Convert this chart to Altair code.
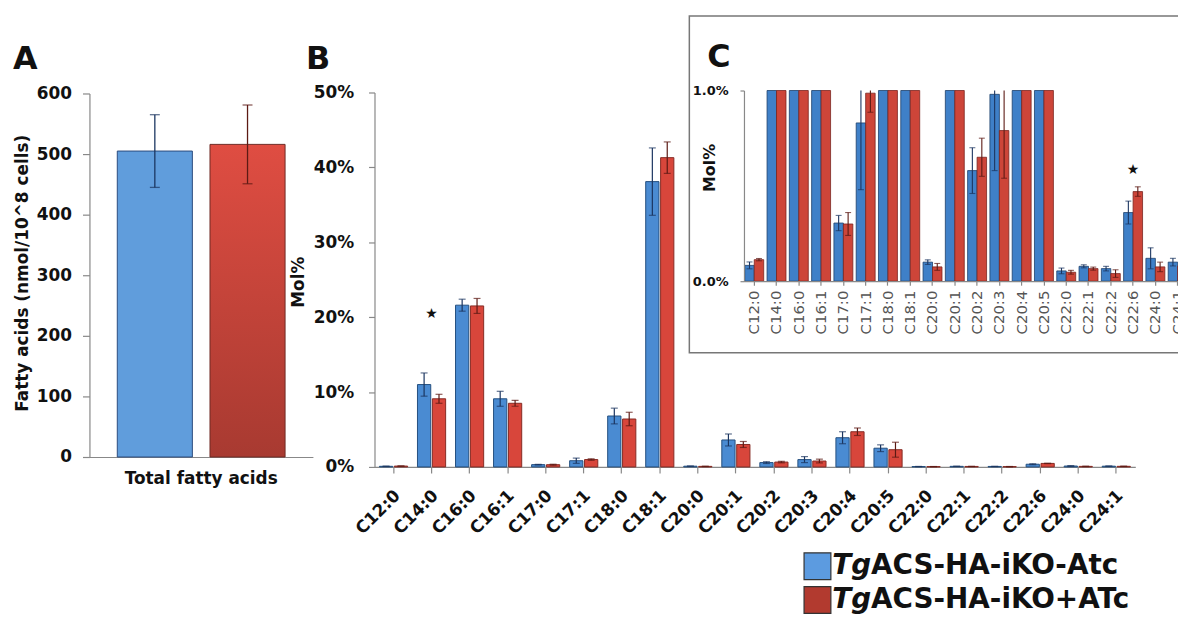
import altair as alt
import pandas as pd

FONT = "DejaVu Sans"
W, H = 1178, 607

# ---------------- data ----------------
groups = ["TgACS-HA-iKO-Atc", "TgACS-HA-iKO+ATc"]
legend_italic = ["Tg", "Tg"]
legend_rest = ["ACS-HA-iKO-Atc", "ACS-HA-iKO+ATc"]

# Panel A: total fatty acids (nmol / 10^8 cells)
total_label = ["Total fatty acids"]
total_mean = [505, 516]
total_sd = [60, 65]

# Panels B and C: Mol% per fatty acid
acids = ["C12:0", "C14:0", "C16:0", "C16:1", "C17:0", "C17:1", "C18:0", "C18:1",
         "C20:0", "C20:1", "C20:2", "C20:3", "C20:4", "C20:5",
         "C22:0", "C22:1", "C22:2", "C22:6", "C24:0", "C24:1"]
mol_minus = [0.083, 11.0, 21.6, 9.1, 0.305, 0.83, 6.8, 38.1, 0.10, 3.6,
             0.58, 0.98, 3.9, 2.5, 0.054, 0.078, 0.066, 0.36, 0.12, 0.10]
sd_minus = [0.018, 1.55, 0.8, 1.0, 0.04, 0.35, 1.05, 4.5, 0.012, 0.8,
            0.12, 0.40, 0.8, 0.45, 0.015, 0.008, 0.012, 0.06, 0.055, 0.02]
mol_plus = [0.113, 9.1, 21.5, 8.5, 0.30, 0.986, 6.4, 41.3, 0.075, 3.0,
            0.65, 0.79, 4.7, 2.3, 0.047, 0.066, 0.04, 0.47, 0.075, 0.08]
sd_plus = [0.006, 0.6, 1.0, 0.4, 0.06, 0.10, 0.9, 2.1, 0.018, 0.4,
           0.10, 0.25, 0.5, 1.0, 0.01, 0.008, 0.02, 0.025, 0.025, 0.015]

star_b_cat, star_b_y = ["C14:0"], [20.4]
star_c_cat, star_c_y = ["C22:6"], [0.583]

# ---------------- tables ----------------
dfA = pd.DataFrame({
    "cat": total_label * 2,
    "group": groups,
    "value": total_mean,
    "lo": [m - s for m, s in zip(total_mean, total_sd)],
    "hi": [m + s for m, s in zip(total_mean, total_sd)],
})

rows = []
for g, means, sds in [(groups[0], mol_minus, sd_minus), (groups[1], mol_plus, sd_plus)]:
    for c, m, s in zip(acids, means, sds):
        rows.append({"cat": c, "group": g, "value": m, "lo": m - s, "hi": m + s})
dfBC = pd.DataFrame(rows)
dfStarB = pd.DataFrame({"cat": star_b_cat, "value": star_b_y})
dfStarC = pd.DataFrame({"cat": star_c_cat, "value": star_c_y})
dfLeg = pd.DataFrame({"group": groups, "ital": legend_italic, "rest": legend_rest})
one = pd.DataFrame({"k": [0]})


def axis(**kw):
    base = dict(labelFont=FONT, labelFontWeight="bold", labelColor="#111",
                domainColor="#888", tickColor="#888", domainWidth=1.2, tickWidth=1.2,
                title=None, grid=False)
    base.update(kw)
    return alt.Axis(**base)


errcol_scale = alt.Scale(domain=groups, range=["#1b3560", "#5c1a14"])
errcol = alt.Color("group:N", scale=errcol_scale, legend=None)

# ---------------- Panel A ----------------
xA = alt.X("cat:N", scale=alt.Scale(domain=total_label, range=[82, 307], paddingInner=0, paddingOuter=0.166),
           axis=axis(orient="bottom", offset=-(H - 450), ticks=False, tickSize=0, labelAngle=0,
                     labelPadding=14, labelFontSize=17))
xoA = alt.XOffset("group:N", scale=alt.Scale(domain=groups, paddingInner=0.19, paddingOuter=0))
scYA = alt.Scale(domain=[0, 600], range=[450, 84], nice=False)
axYA = axis(orient="left", offset=-82, values=[0, 100, 200, 300, 400, 500, 600],
            tickSize=7, labelPadding=11, labelFontSize=17)

baseA = alt.Chart(dfA).encode(x=xA, xOffset=xoA)
barA_blue = baseA.transform_filter(alt.datum.group == groups[0]).mark_bar(
    fill="#609ddc", stroke="#2b4c7e", strokeWidth=1).encode(y=alt.Y("value:Q", scale=scYA, axis=axYA))
barA_red = baseA.transform_filter(alt.datum.group == groups[1]).mark_bar(
    fill=alt.LinearGradient(gradient="linear",
                            stops=[alt.GradientStop(color="#df4d42", offset=0),
                                   alt.GradientStop(color="#a83a31", offset=1)],
                            x1=0, x2=0, y1=0, y2=1),
    stroke="#6f2a24", strokeWidth=1).encode(y=alt.Y("value:Q", scale=scYA, axis=axYA))
ruleA = baseA.mark_rule(strokeWidth=1.3).encode(
    y=alt.Y("lo:Q", scale=scYA, axis=axYA), y2="hi:Q", color=errcol)
capA_hi = baseA.mark_tick(thickness=1.3, size=10).encode(y=alt.Y("hi:Q", scale=scYA, axis=axYA), color=errcol)
capA_lo = baseA.mark_tick(thickness=1.3, size=10).encode(y=alt.Y("lo:Q", scale=scYA, axis=axYA), color=errcol)
layerA = alt.layer(barA_blue, barA_red, ruleA, capA_hi, capA_lo)

# ---------------- Panel B ----------------
xB = alt.X("cat:N", sort=acids,
           scale=alt.Scale(domain=acids, range=[369, 1135], paddingInner=0.26, paddingOuter=0.13),
           axis=axis(orient="bottom", offset=-(H - 460), tickSize=6, labelAngle=-45, labelAlign="right",
                     labelBaseline="middle", labelPadding=20, labelOffset=4, labelFontSize=17))
xoB = alt.XOffset("group:N", scale=alt.Scale(domain=groups, paddingInner=0.11, paddingOuter=0))
scYB = alt.Scale(domain=[0, 50], range=[460, 83], nice=False)
axYB = axis(orient="left", offset=-369, values=[0, 10, 20, 30, 40, 50],
            labelExpr="datum.value + '%'", tickSize=6, labelPadding=15, labelFontSize=17)
fillB = alt.Fill("group:N", scale=alt.Scale(domain=groups, range=["#4a8bd2", "#d8463b"]), legend=None)
strokeB = alt.Stroke("group:N", scale=alt.Scale(domain=groups, range=["#24507f", "#862b24"]), legend=None)

baseB = alt.Chart(dfBC).encode(x=xB, xOffset=xoB)
barB = baseB.mark_bar(strokeWidth=1).encode(y=alt.Y("value:Q", scale=scYB, axis=axYB), fill=fillB, stroke=strokeB)
ruleB = baseB.mark_rule(strokeWidth=1.2).encode(y=alt.Y("lo:Q", scale=scYB, axis=axYB), y2="hi:Q", color=errcol)
capB_hi = baseB.mark_tick(thickness=1.2, size=7).encode(y=alt.Y("hi:Q", scale=scYB, axis=axYB), color=errcol)
capB_lo = baseB.mark_tick(thickness=1.2, size=7).encode(y=alt.Y("lo:Q", scale=scYB, axis=axYB), color=errcol)
starB = alt.Chart(dfStarB).mark_text(text="★", font=FONT, fontSize=14, color="#111").encode(
    x=xB, y=alt.Y("value:Q", scale=scYB, axis=axYB))
layerB = alt.layer(barB, ruleB, capB_hi, capB_lo, starB)

# ---------------- inset frame ----------------
frame = alt.Chart(one).mark_rect(fill="white", stroke="#777", strokeWidth=1.5).encode(
    x=alt.value(686), x2=alt.value(1205), y=alt.value(6), y2=alt.value(345))

# ---------------- Panel C ----------------
xC = alt.X("cat:N", sort=acids,
           scale=alt.Scale(domain=acids, range=[741, 1188], paddingInner=0.15, paddingOuter=0.036),
           axis=axis(orient="bottom", offset=-(H - 273), tickSize=4, labelAngle=-90, labelAlign="right",
                     labelBaseline="middle", labelPadding=5, labelFontSize=15,
                     labelFontWeight="normal", labelColor="#555", zindex=2))
xoC = alt.XOffset("group:N", scale=alt.Scale(domain=groups, paddingInner=0, paddingOuter=0))
scYC = alt.Scale(domain=[0, 1], range=[273, 81], nice=False, clamp=True)
axYC = axis(orient="left", offset=-741, values=[0, 1],
            labelExpr="format(datum.value, '.1f') + '%'", tickSize=4, labelPadding=12,
            labelFontSize=13, zindex=2)
fillC = alt.Fill("group:N", scale=alt.Scale(domain=groups, range=["#3f80c8", "#cd4539"]), legend=None)
strokeC = alt.Stroke("group:N", scale=alt.Scale(domain=groups, range=["#1d3f6a", "#7a2520"]), legend=None)

baseC = alt.Chart(dfBC).encode(x=xC, xOffset=xoC)
barC = baseC.mark_bar(strokeWidth=0.8).encode(y=alt.Y("value:Q", scale=scYC, axis=axYC), fill=fillC, stroke=strokeC)
ruleC = baseC.mark_rule(strokeWidth=1.1).encode(y=alt.Y("lo:Q", scale=scYC, axis=axYC), y2="hi:Q", color=errcol)
capC_hi = baseC.transform_filter(alt.datum.hi <= 1).mark_tick(thickness=1.1, size=6).encode(
    y=alt.Y("hi:Q", scale=scYC, axis=axYC), color=errcol)
capC_lo = baseC.transform_filter(alt.datum.lo <= 1).mark_tick(thickness=1.1, size=6).encode(
    y=alt.Y("lo:Q", scale=scYC, axis=axYC), color=errcol)
starC = alt.Chart(dfStarC).mark_text(text="★", font=FONT, fontSize=14, color="#111").encode(
    x=xC, y=alt.Y("value:Q", scale=scYC, axis=axYC))
layerC = alt.layer(barC, ruleC, capC_hi, capC_lo, starC)

# ---------------- titles ----------------
def label(txt, x, y, size, angle=0, align="left", baseline="alphabetic"):
    kw = dict(text=txt, font=FONT, fontSize=size, fontWeight="bold", color="#111",
              align=align, baseline=baseline)
    if angle:
        kw["angle"] = angle
    return alt.Chart(one).mark_text(**kw).encode(x=alt.value(x), y=alt.value(y))

titles = alt.layer(
    label("A", 5, 59, 32),
    label("B", 300, 59, 32),
    label("C", 704, 57, 32),
    label("Fatty acids (nmol/10^8 cells)", 15, 265, 17, angle=270, align="center", baseline="middle"),
    label("Mol%", 293, 274, 17, angle=270, align="center", baseline="middle"),
    label("Mol%", 707, 159, 16, angle=270, align="center", baseline="middle"),
)

# ---------------- legend ----------------
yLeg = alt.Y("group:N", scale=alt.Scale(type="point", domain=groups, range=[560, 594], padding=0), axis=None)
legSq = alt.Chart(dfLeg).mark_square(size=729, opacity=1, filled=True, stroke="#333", strokeWidth=1.2).encode(
    x=alt.value(815), y=yLeg,
    fill=alt.Fill("group:N", scale=alt.Scale(domain=groups, range=["#5c9be0", "#b23a2f"]), legend=None))
legIt = alt.Chart(dfLeg).mark_text(font=FONT, fontSize=28, fontWeight="bold", fontStyle="italic",
                                   align="left", baseline="middle", color="#111").encode(
    x=alt.value(830), y=yLeg, text="ital:N")
legRest = alt.Chart(dfLeg).mark_text(font=FONT, fontSize=28, fontWeight="bold",
                                     align="left", baseline="middle", color="#111").encode(
    x=alt.value(869), y=yLeg, text="rest:N")
legend = alt.layer(legSq, legIt, legRest)

chart = alt.layer(layerA, layerB, frame, layerC, titles, legend).resolve_scale(
    x="independent", y="independent", xOffset="independent",
    color="independent", fill="independent", stroke="independent",
).resolve_axis(x="independent", y="independent").properties(
    width=W, height=H, padding=0, autosize=alt.AutoSizeParams(type="none"), background="white",
).configure_view(strokeWidth=0)

chart.save("out.html", embed_options={"renderer": "svg", "actions": False})
